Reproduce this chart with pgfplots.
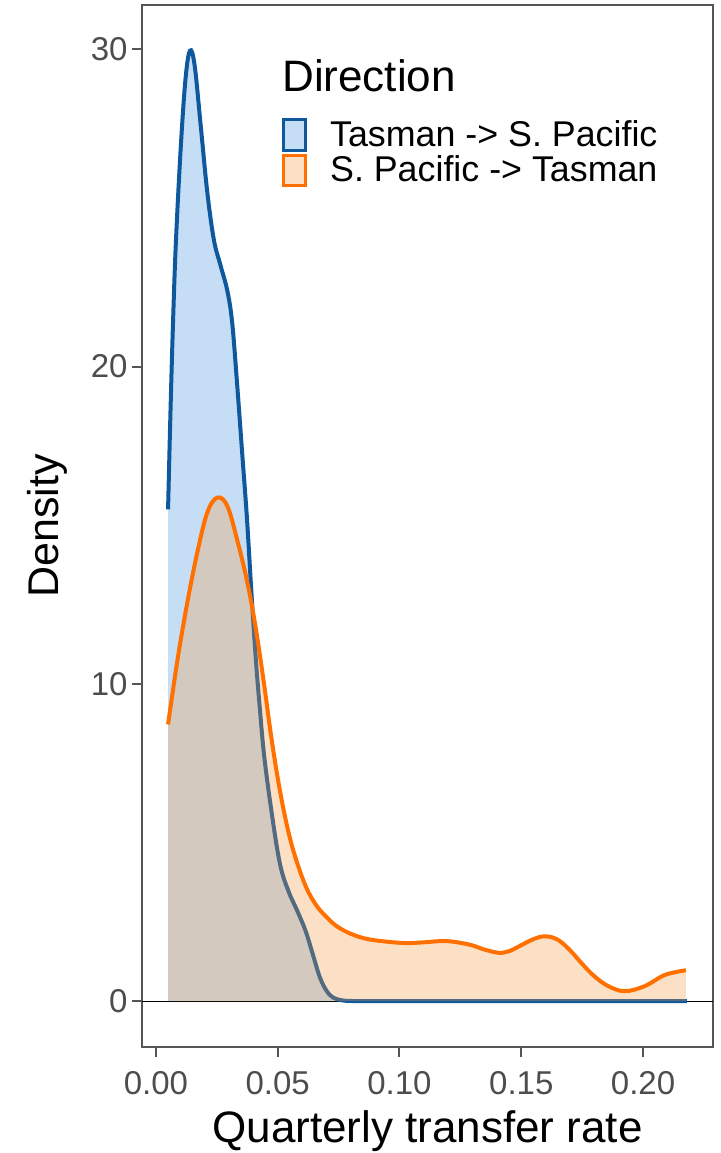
\documentclass[border=0pt]{standalone}
\usepackage{pgfplots}
\pgfplotsset{compat=1.18}
\usepackage{pgfplotstable}
\usepackage{fontspec}
\setmainfont{Liberation Sans}
\definecolor{blueline}{RGB}{14,88,158}
\definecolor{bluefill}{RGB}{65,145,222}
\definecolor{orangeline}{RGB}{255,112,0}
\definecolor{orangefill}{RGB}{245,152,65}
\definecolor{axgray}{RGB}{85,85,85}
\definecolor{tickgray}{RGB}{77,77,77}

\pgfplotstableread{
x y
0.0050 15.5
0.0060 18.6
0.0070 21.3
0.0082 23.9
0.0102 26.9
0.0122 29.1
0.0140 29.96
0.0159 29.5
0.0184 27.6
0.0211 25.5
0.0238 24.0
0.0265 23.2
0.0293 22.4
0.0313 21.4
0.0333 19.5
0.0354 17.3
0.0374 15.2
0.0392 12.9
0.0410 10.8
0.0427 9.2
0.0445 7.7
0.0476 5.9
0.0510 4.3
0.0545 3.45
0.0580 2.85
0.0615 2.2
0.0645 1.45
0.0673 0.75
0.0700 0.33
0.0727 0.11
0.0765 0.02
0.0808 0.0
0.0900 0.0
0.1000 0.0
0.1500 0.0
0.2000 0.0
0.2180 0.0
}\bluetab

\pgfplotstableread{
x y
0.0050 8.72
0.0089 10.77
0.0129 12.56
0.0170 14.14
0.0211 15.40
0.0252 15.87
0.0293 15.61
0.0333 14.56
0.0374 13.25
0.0408 11.85
0.0442 10.1
0.0476 8.2
0.0510 6.6
0.0545 5.3
0.0578 4.4
0.0619 3.55
0.0660 3.0
0.0700 2.65
0.0742 2.36
0.0800 2.12
0.0878 1.94
0.1012 1.83
0.1100 1.85
0.1191 1.89
0.1286 1.78
0.1350 1.62
0.1408 1.52
0.1450 1.57
0.1490 1.72
0.1550 1.95
0.1599 2.04
0.1650 1.93
0.1700 1.6
0.1750 1.17
0.1800 0.78
0.1857 0.47
0.1925 0.31
0.2007 0.47
0.2089 0.82
0.2176 0.97
}\orangetab

\begin{document}
\begin{tikzpicture}
\useasboundingbox (-71pt,-53pt) rectangle (289pt,523.5pt);
\begin{axis}[
  at={(0,0)}, anchor=south west,
  scale only axis, width=285.5pt, height=521pt,
  xmin=-0.0057, xmax=0.2287, ymin=-1.45, ymax=31.4,
  xtick={0,0.05,0.1,0.15,0.2},
  xticklabels={0.00,0.05,0.10,0.15,0.20},
  ytick={0,10,20,30},
  yticklabels={0,10,20,30},
  tick align=outside,
  major tick length=5pt,
  tick style={axgray, line width=1pt},
  axis line style={axgray, line width=1pt},
  xtick pos=bottom, ytick pos=left,
  xticklabel style={font=\fontsize{16.5}{16.5}\selectfont, text=tickgray, inner sep=0pt, anchor=north, yshift=-7pt},
  yticklabel style={font=\fontsize{16.5}{16.5}\selectfont, text=tickgray, inner sep=0pt, anchor=east, xshift=-2pt},
  xlabel={Quarterly transfer rate},
  ylabel={Density},
  xlabel style={font=\fontsize{22}{22}\selectfont, at={(axis description cs:0.5,-0.0921)}, anchor=base, inner sep=0pt},
  ylabel style={font=\fontsize{21.5}{21.5}\selectfont, at={(axis description cs:-0.1664,0.5)}, anchor=center, inner sep=0pt},
  legend style={draw=none, fill=none, at={(0.2447,0.8916)}, anchor=north west,
    font=\fontsize{17.9}{17.9}\selectfont, inner sep=0pt, row sep=1pt,
    nodes={inner sep=0pt}},
  legend cell align=left,
  legend image code/.code={\draw (0pt,-7.6pt) rectangle (10.8pt,7.6pt); \path (22.5pt,0pt);},
]
\addplot[black, line width=0.5pt, forget plot] coordinates {(-0.0057,0) (0.2287,0)};
% Tasman -> S. Pacific
\addplot[draw=none, fill=bluefill, fill opacity=0.3, smooth, tension=0.6, forget plot] table {\bluetab} \closedcycle;
\addplot[blueline, line width=2pt, smooth, tension=0.6, forget plot] table {\bluetab};
% S. Pacific -> Tasman
\addplot[draw=none, fill=orangefill, fill opacity=0.3, smooth, tension=0.6, forget plot] table {\orangetab} \closedcycle;
\addplot[orangeline, line width=2pt, smooth, tension=0.6, forget plot] table {\orangetab};

\addlegendimage{draw=blueline, line width=1.5pt, fill=bluefill, fill opacity=0.3}
\addlegendentry{Tasman -> S. Pacific}
\addlegendimage{draw=orangeline, line width=1.5pt, fill=orangefill, fill opacity=0.3}
\addlegendentry{S. Pacific -> Tasman}

\node[anchor=base west, inner sep=0pt, font=\fontsize{22}{22}\selectfont] at (rel axis cs:0.245,0.9165) {Direction};
\end{axis}
\end{tikzpicture}
\end{document}
